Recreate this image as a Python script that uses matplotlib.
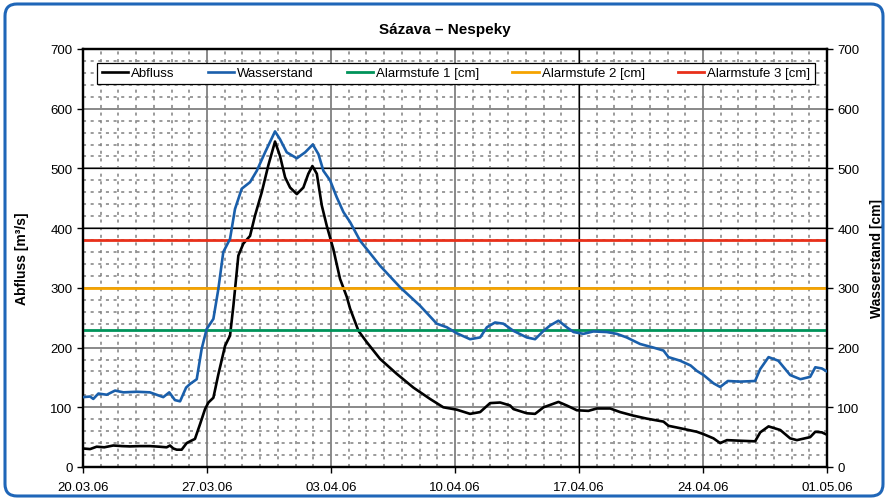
import matplotlib
matplotlib.use("Agg")
import matplotlib.pyplot as plt
import matplotlib.dates as mdates
import matplotlib.transforms as mtransforms
from matplotlib.patches import FancyBboxPatch
import pandas as pd

plt.rcParams["font.family"] = ["Liberation Sans", "DejaVu Sans"]

START = pd.Timestamp("2006-03-20")
END = pd.Timestamp("2006-05-01")

# Abfluss [m3/s], days after 20.03.06
abfluss_days = [0.0, 0.4, 0.77, 1.2, 1.71, 2.2, 2.65, 3.2, 3.78, 4.3, 4.72, 4.91, 5.1,
                5.29, 5.57, 5.85, 6.04, 6.32, 6.61, 6.89, 7.08, 7.36, 7.64, 8.02, 8.30,
                8.49, 8.77, 9.05, 9.43, 9.71, 10.09, 10.46, 10.84, 11.12, 11.41, 11.69,
                12.07, 12.44, 12.72, 12.95, 13.20, 13.48, 13.76, 14.13, 14.51, 14.89,
                15.08, 15.55, 16.02, 16.77, 17.71, 18.65, 19.59, 20.34, 21.10, 21.85,
                22.42, 22.98, 23.55, 24.11, 24.30, 25.05, 25.52, 26.00, 26.84, 27.31,
                27.88, 28.53, 29.01, 29.76, 30.32, 31.07, 31.83, 32.77, 33.05, 33.71,
                34.65, 35.03, 35.59, 35.97, 36.35, 37.10, 37.94, 38.23, 38.70, 39.36,
                39.92, 40.30, 41.05, 41.34, 41.71, 42.0]
abfluss = [31, 30, 34, 33, 36, 35, 34.5, 35, 35, 34, 33, 36, 31,
           29, 29, 40, 43, 47, 72, 97, 108, 116, 155, 203, 220,
           270, 354, 374, 387, 421, 460, 505, 545, 521, 485, 468,
           457, 468, 491, 504, 491, 438, 404, 365, 315, 285,
           265, 228, 209, 181, 156, 133, 114, 100, 96, 89,
           92, 107, 108, 103, 97, 90, 89, 100, 109, 103,
           95, 94, 98, 98, 92, 86, 81, 76, 69, 65,
           59, 55, 48, 40, 45, 44, 43, 58, 68, 62,
           48, 45, 50, 59, 58, 54]

# Wasserstand [cm]
wasser_days = [0.0, 0.40, 0.58, 0.87, 1.34, 1.81, 2.28, 3.03, 3.78, 4.53, 4.87, 5.19,
               5.48, 5.82, 6.04, 6.42, 6.70, 6.98, 7.36, 7.64, 7.92, 8.30, 8.58, 8.96,
               9.43, 9.81, 10.28, 10.84, 11.12, 11.50, 12.07, 12.54, 12.97, 13.29,
               13.57, 13.95, 14.32, 14.70, 15.08, 15.64, 16.77, 17.90, 19.03, 19.97,
               20.54, 21.10, 21.85, 22.42, 22.80, 23.26, 23.73, 24.30, 25.05, 25.52,
               26.00, 26.37, 26.84, 27.31, 27.69, 28.25, 28.81, 29.57, 30.13, 30.69,
               31.45, 32.20, 32.77, 33.05, 33.71, 34.3, 34.65, 35.03, 35.6, 35.97,
               36.4, 37.1, 37.94, 38.23, 38.70, 39.25, 39.92, 40.50, 41.05, 41.34,
               41.71, 42.0]
wasserstand = [117, 118, 114, 123, 121, 128, 125, 126, 125, 117, 125, 112,
               110, 133, 139, 147, 198, 231, 248, 298, 360, 382, 432, 466,
               477, 496, 527, 562, 549, 527, 517, 527, 540, 524,
               496, 480, 452, 427, 410, 379, 337, 301, 270, 240,
               234, 224, 214, 217, 234, 242, 240, 228, 217, 214,
               228, 237, 245, 234, 226, 223, 227, 226, 223, 217,
               206, 200, 195, 184, 178, 170, 161, 154, 140, 134,
               144, 143, 144, 164, 184, 178, 154, 147, 151, 167,
               165, 160]

alarm_names = ["Alarmstufe 1 [cm]", "Alarmstufe 2 [cm]", "Alarmstufe 3 [cm]"]
alarm_levels = [230, 300, 380]
alarm_colors = ["#00935a", "#f5a300", "#e8301a"]

x_abfluss = START + pd.to_timedelta(abfluss_days, unit="D")
x_wasser = START + pd.to_timedelta(wasser_days, unit="D")

fig = plt.figure(figsize=(8.88, 5.02), dpi=100)
ax = fig.add_axes([83 / 888, 34 / 502, 744 / 888, 418 / 502])
ax2 = ax.twinx()

# grid: solid weekly / every 100, dotted daily / every 20
grid_gray = "#808080"
for d in pd.date_range(START, END, freq="D"):
    if (d - START).days % 7 == 0:
        ax.axvline(d, color=grid_gray, lw=1.3, zorder=1)
    else:
        ax.axvline(d, color=grid_gray, lw=1.1, ls=(0, (2, 3)), zorder=1)
for v in range(0, 701, 20):
    if v % 100 == 0:
        ax.axhline(v, color=grid_gray, lw=1.3, zorder=1)
    else:
        ax.axhline(v, color=grid_gray, lw=1.1, ls=(0, (2, 3)), zorder=1)
for v in (400, 500):
    ax.axhline(v, color="black", lw=0.9, zorder=1.5)
ax.axvline(pd.Timestamp("2006-04-17"), color="black", lw=0.9, zorder=1.5)

l1, = ax.plot(x_abfluss, abfluss, color="black", lw=1.9, zorder=3, label="Abfluss")
l2, = ax2.plot(x_wasser, wasserstand, color="#1a5fab", lw=1.9, zorder=3, label="Wasserstand")
alarm_handles = []
for name, lvl, col in zip(alarm_names, alarm_levels, alarm_colors):
    h = ax2.axhline(lvl, color=col, lw=2.0, zorder=2, label=name)
    alarm_handles.append(h)

for a in (ax, ax2):
    a.set_ylim(0, 700)
    a.set_xlim(START, END)
    for s in a.spines.values():
        s.set_linewidth(1.6)
        s.set_color("black")
ax.set_yticks(range(0, 701, 100))
ax2.set_yticks(range(0, 701, 100))
ax.set_xticks(pd.date_range(START, END, freq="7D"))
ax.xaxis.set_major_formatter(mdates.DateFormatter("%d.%m.%y"))
ax.tick_params(axis="both", labelsize=9.5, direction="out", length=4, width=1)
ax2.tick_params(axis="y", labelsize=9.5, direction="out", length=4, width=1)
ax.tick_params(axis="x", pad=6)

ax.set_ylabel("Abfluss [m³/s]", fontsize=10, fontweight="bold")
ax.yaxis.set_label_coords(-0.072, 0.5)
ax2.set_ylabel("Wasserstand [cm]", fontsize=10, fontweight="bold")
ax2.yaxis.set_label_coords(1.058, 0.5)

fig.text(0.501, 0.94, "Sázava – Nespeky", ha="center", va="center",
         fontsize=11, fontweight="bold")

leg = ax2.legend([l1, l2] + alarm_handles,
                 ["Abfluss", "Wasserstand"] + alarm_names,
                 loc="lower left", bbox_to_anchor=(0.019, 0.916, 0.965, 0.055),
                 mode="expand", ncol=5, fontsize=9.5, frameon=True, fancybox=False,
                 edgecolor="black", framealpha=1, borderaxespad=0, handlelength=2.0,
                 handletextpad=0.25, borderpad=0.35)
leg.get_frame().set_linewidth(0.9)

border = FancyBboxPatch((5, 5), 878, 492, boxstyle="round,pad=0,rounding_size=12",
                        transform=mtransforms.IdentityTransform(),
                        facecolor="none", edgecolor="#1f66b8", lw=2.2)
fig.patches.append(border)

fig.savefig("out.png", dpi=100)
